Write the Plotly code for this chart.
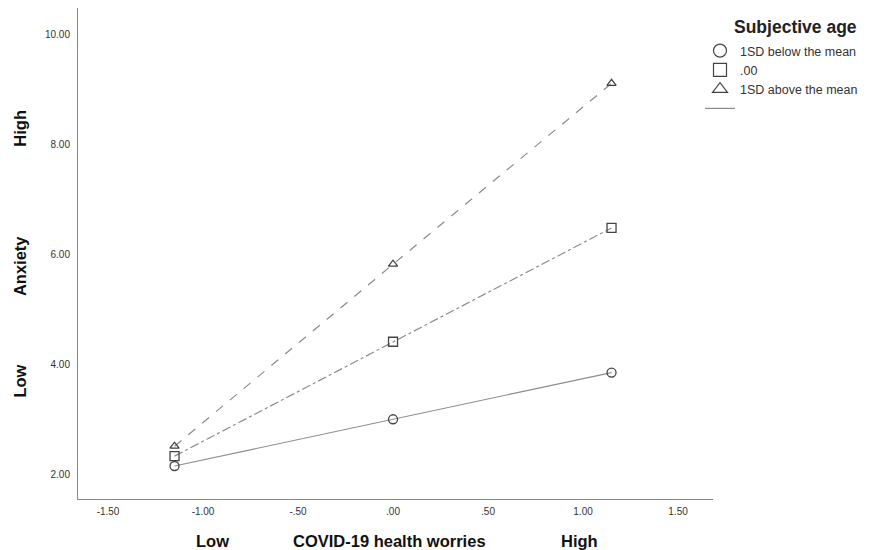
import plotly.graph_objects as go

x_vals = [-1.15, 0.0, 1.15]
series_names = ["1SD below the mean", ".00", "1SD above the mean"]
low_sa = [2.16, 3.01, 3.86]
mean_sa = [2.34, 4.42, 6.49]
high_sa = [2.52, 5.83, 9.12]
x_ticks = [-1.5, -1.0, -0.5, 0.0, 0.5, 1.0, 1.5]
x_tick_labels = ["-1.50", "-1.00", "-.50", ".00", ".50", "1.00", "1.50"]
y_ticks = [2, 4, 6, 8, 10]
y_tick_labels = ["2.00", "4.00", "6.00", "8.00", "10.00"]
legend_title = "Subjective age"

line_col = "#8c8c8c"
mk_col = "#444444"
symbols = ["circle-open", "square-open", "triangle-up-open"]
dashes = ["solid", "dashdot", "dash"]
sizes = [9, 9, 8]
data = [low_sa, mean_sa, high_sa]

fig = go.Figure()
for name, ys, sym, dsh, sz in zip(series_names, data, symbols, dashes, sizes):
    fig.add_trace(go.Scatter(
        x=x_vals, y=ys, mode="lines+markers", showlegend=False,
        line=dict(color=line_col, width=1.2, dash=dsh),
        marker=dict(symbol=sym, size=sz, color=mk_col, line=dict(width=1.3, color=mk_col)),
    ))
# legend-only entries
for name, sym in zip(series_names, symbols):
    fig.add_trace(go.Scatter(
        x=[None], y=[None], mode="markers", name=name,
        marker=dict(symbol=sym, size=13, color=mk_col, line=dict(width=1.2, color=mk_col)),
    ))
fig.add_trace(go.Scatter(x=[None], y=[None], mode="lines", name=" ",
                         line=dict(color=line_col, width=1.2)))

tick_font = dict(family="Liberation Sans, Arial", size=10, color="#333")
fig.update_layout(
    width=876, height=550,
    margin=dict(l=78, r=163, t=8, b=51, autoexpand=False),
    plot_bgcolor="white", paper_bgcolor="white",
    font=dict(family="Liberation Sans, Arial", color="#222"),
    legend=dict(
        x=(700 - 78) / 635, xanchor="left", y=1 - (36 - 8) / 491, yanchor="top",
        font=dict(size=12.5, color="#333"),
        tracegroupgap=0, itemwidth=30, bgcolor="rgba(0,0,0,0)",
    ),
    xaxis=dict(
        range=[-1.658, 1.684], tickvals=x_ticks, ticktext=x_tick_labels,
        showgrid=False, zeroline=False, showline=True, linecolor="#888", linewidth=1,
        ticks="", tickfont=tick_font, ticklabelstandoff=3,
    ),
    yaxis=dict(
        range=[1.56, 10.49], tickvals=y_ticks, ticktext=y_tick_labels,
        showgrid=False, zeroline=False, showline=True, linecolor="#888", linewidth=1,
        ticks="", tickfont=tick_font, ticklabelstandoff=5,
    ),
)

fig.add_annotation(text="<b>" + legend_title + "</b>", xref="paper", yref="paper",
                   x=(795 - 78) / 635, y=1 - (27 - 8) / 491, xanchor="center", yanchor="middle",
                   showarrow=False, font=dict(family="Liberation Sans, Arial", size=17.5, color="#222"))

ann_font = dict(family="Liberation Sans, Arial", size=16.5, color="#111")
# y axis title parts
for txt, yv in [("<b>Low</b>", 3.7), ("<b>Anxiety</b>", 5.8), ("<b>High</b>", 8.3)]:
    fig.add_annotation(text=txt, xref="paper", yref="y", x=-0.091, y=yv,
                       xanchor="center", yanchor="middle",
                       textangle=-90, showarrow=False, font=ann_font)
# x axis title parts
for txt, xv in [("<b>Low</b>", -0.95), ("<b>COVID-19 health worries</b>", -0.02), ("<b>High</b>", 0.98)]:
    fig.add_annotation(text=txt, xref="x", yref="paper", x=xv, y=-0.085,
                       xanchor="center", yanchor="middle", showarrow=False, font=ann_font)

fig.write_html("out.html", config={"displayModeBar": False},
               post_script="document.body.style.margin='0px';document.body.style.overflow='hidden';")
